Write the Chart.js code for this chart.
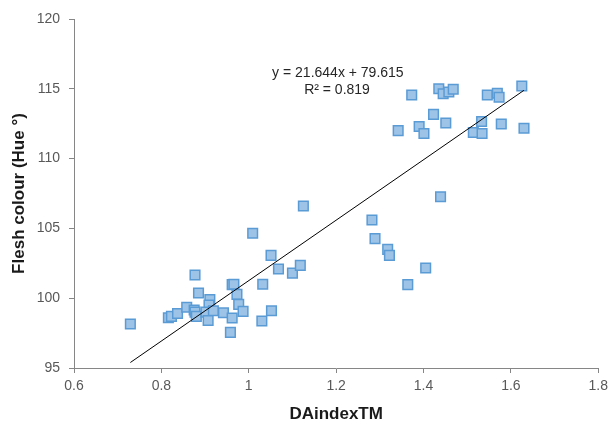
<!DOCTYPE html>
<html>
<head>
<meta charset="utf-8">
<script src="https://cdn.jsdelivr.net/npm/chart.js@4"></script>
<style>
    html, body { margin: 0; padding: 0; background: #fff; }
    #wrap { width: 613px; height: 423px; }
</style>
</head>
<body>
<div id="wrap"><canvas id="hueChart"></canvas></div>
<script>
// DAindex readings and flesh hue for each fruit
const daIndex = [
    0.729, 0.816, 0.823, 0.837, 0.858, 0.877, 0.885, 0.875, 0.877, 0.880,
    0.911, 0.909, 0.902, 0.919, 0.907, 0.942, 0.962, 0.966, 0.973, 0.977,
    0.987, 0.962, 0.958, 1.032, 1.051, 1.068, 1.100, 1.118, 1.030, 1.052,
    1.009, 1.125, 1.282, 1.289, 1.318, 1.322, 1.405, 1.364, 1.439, 1.373,
    1.435, 1.445, 1.458, 1.468, 1.423, 1.451, 1.390, 1.401, 1.342, 1.546,
    1.569, 1.573, 1.625, 1.533, 1.514, 1.534, 1.578, 1.630
];
const hue = [
    98.15, 98.6, 98.7, 98.9, 99.35, 101.66, 100.37, 99.15, 99.0, 98.7,
    99.9, 99.5, 99.0, 99.1, 98.4, 98.96, 100.97, 101.0, 100.27, 99.56,
    99.06, 98.58, 97.55, 101.0, 103.07, 102.09, 101.8, 102.35, 98.37, 99.1,
    104.65, 106.6, 105.6, 104.27, 103.5, 103.07, 102.16, 100.97, 107.27, 114.56,
    115.0, 114.65, 114.77, 114.97, 113.17, 112.55, 112.3, 111.8, 112.0, 114.56,
    114.68, 114.39, 115.2, 112.66, 111.87, 111.8, 112.48, 112.17
];

// linear trend as printed on the chart
const slope = 21.644;
const intercept = 79.615;
const r2 = 0.819;
const trendX = [0.729, 1.630];

const xTicks = [0.6, 0.8, 1.0, 1.2, 1.4, 1.6, 1.8];
const yTicks = [95, 100, 105, 110, 115, 120];

const points = daIndex.map((x, i) => ({ x: x, y: hue[i] }));
const trend = trendX.map(x => ({ x: x, y: slope * x + intercept }));

const fontFamily = '"Liberation Sans", Arial, sans-serif';

// draws the equation text next to the trend line
const equationLabel = {
    id: 'equationLabel',
    afterDatasetsDraw(chart) {
        const ctx = chart.ctx;
        const xs = chart.scales.x;
        const ys = chart.scales.y;
        ctx.save();
        ctx.fillStyle = '#262626';
        ctx.font = '14px ' + fontFamily;
        ctx.textAlign = 'center';
        ctx.textBaseline = 'middle';
        ctx.fillText('y = ' + slope + 'x + ' + intercept, xs.getPixelForValue(1.204), ys.getPixelForValue(116.1));
        ctx.fillText('R\u00b2 = ' + r2, xs.getPixelForValue(1.202), ys.getPixelForValue(114.93));
        ctx.restore();
    }
};

const ctx = document.getElementById('hueChart').getContext('2d');
const hueChart = new Chart(ctx, {
    type: 'scatter',
    data: {
        datasets: [
            {
                label: 'Hue',
                data: points,
                pointStyle: 'rect',
                pointRadius: 6.8,
                pointHoverRadius: 6.8,
                backgroundColor: '#9dc3e6',
                borderColor: '#5b9bd5',
                borderWidth: 1.5,
                order: 2
            },
            {
                type: 'line',
                label: 'Linear',
                data: trend,
                borderColor: '#000000',
                borderWidth: 1,
                pointRadius: 0,
                fill: false,
                order: 1
            }
        ]
    },
    options: {
        responsive: true,
        maintainAspectRatio: false,
        animation: false,
        layout: { padding: { top: 19, right: 11, left: 0, bottom: 0 } },
        plugins: {
            legend: { display: false },
            tooltip: { enabled: false }
        },
        scales: {
            x: {
                type: 'linear',
                min: 0.6,
                max: 1.8,
                afterBuildTicks: scale => { scale.ticks = xTicks.map(v => ({ value: v })); },
                afterFit: scale => { scale.height = 55; },
                border: { color: '#868686', width: 1 },
                grid: { drawOnChartArea: false, tickLength: 5, color: '#868686' },
                ticks: {
                    color: '#595959',
                    padding: 5,
                    font: { family: fontFamily, size: 14 },
                    callback: v => String(Math.round(v * 10) / 10)
                },
                title: {
                    display: true,
                    text: 'DAindexTM',
                    color: '#1a1a1a',
                    font: { family: fontFamily, size: 17, weight: 'bold', lineHeight: 1.0 },
                    padding: { top: 0, bottom: 0 }
                }
            },
            y: {
                min: 95,
                max: 120,
                afterBuildTicks: scale => { scale.ticks = yTicks.map(v => ({ value: v })); },
                afterFit: scale => { scale.width = 74; },
                border: { color: '#868686', width: 1 },
                grid: { drawOnChartArea: false, tickLength: 5, color: '#868686' },
                ticks: {
                    color: '#595959',
                    padding: 9,
                    font: { family: fontFamily, size: 14 }
                },
                title: {
                    display: true,
                    text: 'Flesh colour (Hue \u00b0)',
                    color: '#1a1a1a',
                    font: { family: fontFamily, size: 17, weight: 'bold', lineHeight: 1.0 },
                    padding: { top: 11, bottom: 0 }
                }
            }
        }
    },
    plugins: [equationLabel]
});
</script>
</body>
</html>
